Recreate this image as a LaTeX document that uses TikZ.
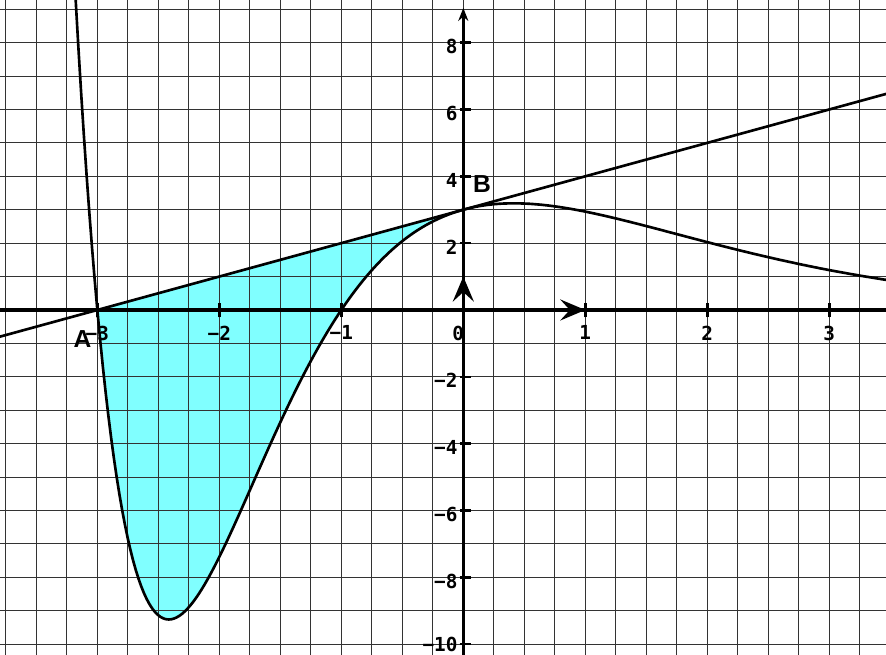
\documentclass[tikz,border=0pt]{standalone}
\usepackage{fontspec}
\setsansfont{Liberation Sans}
\setmonofont{DejaVu Sans Mono}
\usetikzlibrary{arrows.meta,positioning}

\begin{document}
\begin{tikzpicture}[
x=2.44cm, y=0.6684cm,
declare function={f(\t)=(\t+1)*(\t+3)*exp(-\t);},
gridline/.style={black!80, line width=0.55pt},
axis/.style={line width=1.9pt},
tickmark/.style={line width=1.4pt},
curve/.style={line width=1.5pt},
area/.style={fill={rgb,255:red,128;green,255;blue,255}},
vect/.style={line width=1.9pt, -{Stealth[length=5mm, width=4.2mm, inset=1.9mm]}},
ticklabel/.style={font=\ttfamily\bfseries\fontsize{11}{13}\selectfont, inner sep=0pt},
xnum/.style={ticklabel, anchor=north, yshift=-0.31cm},
ynum/.style={ticklabel, anchor=east, xshift=-0.11cm, yshift=-0.08cm},
ptlabel/.style={font=\sffamily\bfseries\fontsize{14}{16}\selectfont, inner sep=0pt}
]

\useasboundingbox (-3.798,-10.32) rectangle (3.465,9.276);
\clip (-3.798,-10.32) rectangle (3.465,9.276);

\coordinate (O) at (0,0);
\coordinate (I) at (1,0);
\coordinate (J) at (0,1);
\coordinate (A) at (-3,0);
\coordinate (B) at (0,3);
\coordinate (xmin) at (-3.9,0);
\coordinate (xmax) at (3.6,0);
\coordinate (ymin) at (0,-10.5);
\coordinate (ymax) at (0,9.04);
\coordinate (Tleft) at (-3.9,-0.9);
\coordinate (Tright) at (3.6,6.6);

% shaded area between the tangent and the curve
\fill[area] (A) -- (B) -- plot[domain=0:-3, samples=120] (\x,{f(\x)}) -- cycle;

% grid
\draw[gridline, step={(0.25,1)}] (-4,-11) grid (3.75,9.75);

% axes
\draw[axis] (xmin) -- (xmax);
\draw[axis, -{Stealth[length=2.6mm, width=2mm]}] (ymin) -- (ymax);
\foreach \k in {-3,...,3}
  \draw[tickmark] (\k,-0.22) -- (\k,0.22);
\foreach \k in {-10,-8,...,8}
  \draw[tickmark] (-0.03,\k) -- (0.06,\k);

% tangent and curve
\draw[curve] (Tleft) -- (Tright);
\draw[curve] plot[domain=-3.2:3.5, samples=300] (\x,{f(\x)});

% unit vectors
\draw[vect] (O) -- (I);
\draw[vect] (O) -- (J);

% numbers on the axes
\node[xnum] (xm3) at (-3,0) {−3};
\node[xnum] (xm2) at (-2,0) {−2};
\node[xnum] (xm1) at (-1,0) {−1};
\node[xnum, xshift=-0.1cm] (x0) at (0,0) {0};
\node[xnum] (x1) at (1,0) {1};
\node[xnum] (x2) at (2,0) {2};
\node[xnum] (x3) at (3,0) {3};

\node[ynum] (y8) at (0,8) {8};
\node[ynum] (y6) at (0,6) {6};
\node[ynum] (y4) at (0,4) {4};
\node[ynum] (y2) at (0,2) {2};
\node[ynum] (ym2) at (0,-2) {−2};
\node[ynum] (ym4) at (0,-4) {−4};
\node[ynum] (ym6) at (0,-6) {−6};
\node[ynum] (ym8) at (0,-8) {−8};
\node[ynum, yshift=0.08cm] (ym10) at (0,-10) {−10};

% points
\node[ptlabel, below left=0.4cm and 0.11cm of A] (labA) {A};
\node[ptlabel, above right=0.33cm and 0.19cm of B] (labB) {B};

\end{tikzpicture}
\end{document}
